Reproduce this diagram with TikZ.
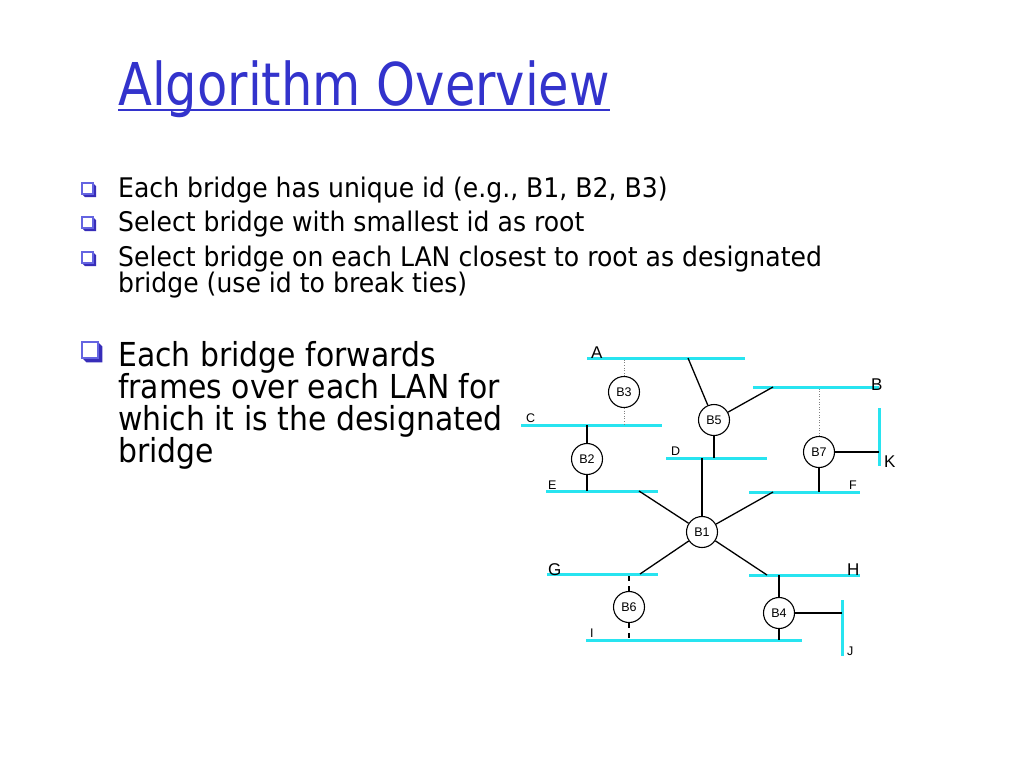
\documentclass[tikz,border=0pt]{standalone}
\usepackage{fontspec}
\setmainfont{DejaVu Sans}[FakeStretch=0.84]
\newfontfamily\bodyfont{DejaVu Sans}[FakeStretch=0.93]
\newfontfamily\bigfont{DejaVu Sans}[FakeStretch=0.905]
\newfontfamily\lanfont{Liberation Sans}
\usetikzlibrary{positioning}
\definecolor{titleblue}{RGB}{51,51,204}
\definecolor{lancyan}{RGB}{40,228,240}
\definecolor{bulfront}{RGB}{100,100,225}
\definecolor{bulback}{RGB}{55,45,185}
\tikzset{
  sqbul/.pic={
    \fill[bulback] (11,0)--(14,3)--(14,14)--(3,14)--(0,11)--(11,11)--cycle;
    \draw[bulfront,line width=1.4pt,fill=white] (0,0) rectangle (11,11);
  }
}
\begin{document}
\begin{tikzpicture}[x=1pt,y=-1pt,
  bridge/.style = {draw, circle, line width=1.1pt, minimum size=31pt, inner sep=0pt, font=\lanfont\fontsize{12.5}{14}\selectfont},
  lan/.style = {lancyan, line width=3pt},
  link/.style = {line width=1.3pt},
  dotlink/.style = {gray, line width=0.6pt, dotted},
  dashlink/.style = {line width=1.3pt, dash pattern=on 5pt off 5pt},
  small/.style = {anchor=base west, inner sep=0pt, font=\lanfont\fontsize{12.5}{14}\selectfont},
  big/.style = {anchor=base west, inner sep=0pt, font=\lanfont\fontsize{17}{19}\selectfont},
  txt/.style = {anchor=base west, inner sep=0pt, font=\bodyfont\fontsize{27}{23}\selectfont},
  bigtxt/.style = {anchor=base west, inner sep=0pt, font=\bigfont\fontsize{33}{32}\selectfont},]
\fill[white] (0,0) rectangle (1024,768);
\useasboundingbox (0,0) rectangle (1024,768);
% title
\node (title) at (118,105)[anchor=base west, inner sep=0pt, text=titleblue, font=\fontsize{59}{70}\selectfont] {Algorithm Overview};
\draw[titleblue, line width=2pt] ([yshift=-5pt]title.base west) -- ([yshift=-5pt]title.base east);
% bullets
\pic at (82,183) {sqbul};
\pic at (82,217) {sqbul};
\pic at (82,252) {sqbul};
\pic[scale=1.45] at (82,342) {sqbul};
\node (t1) at (118,197)[txt] {Each bridge has unique id (e.g., B1, B2, B3)};
\node (t2) at (118,231)[txt] {Select bridge with smallest id as root};
\node (t3) at (118,266)[txt] {Select bridge on each LAN closest to root as designated};
\node (t3b) at (118,292)[txt] {bridge (use id to break ties)};
\node (t4) at (118,366)[bigtxt] {Each bridge forwards};
\node (t4b) at (118,398)[bigtxt] {frames over each LAN for};
\node (t4c) at (118,430)[bigtxt] {which it is the designated};
\node (t4d) at (118,462)[bigtxt] {bridge};
% LANs
\coordinate (Al) at (587,358); \coordinate (Ar) at (745,358);
\coordinate (Bl) at (753,387); \coordinate (Br) at (879,387);
\coordinate (Cl) at (521,425); \coordinate (Cr) at (662,425);
\coordinate (Dl) at (666,458); \coordinate (Dr) at (767,458);
\coordinate (El) at (546,491); \coordinate (Er) at (658,491);
\coordinate (Fl) at (749,492); \coordinate (Fr) at (860,492);
\coordinate (Kt) at (879,408); \coordinate (Kb) at (879,466);
\coordinate (Gl) at (547,574); \coordinate (Gr) at (658,574);
\coordinate (Hl) at (749,575); \coordinate (Hr) at (860,575);
\coordinate (Il) at (586,640); \coordinate (Ir) at (802,640);
\coordinate (Jt) at (842,600); \coordinate (Jb) at (842,656);
\draw[lan] (Al)--(Ar);
\draw[lan] (Bl)--(Br);
\draw[lan] (Cl)--(Cr);
\draw[lan] (Dl)--(Dr);
\draw[lan] (El)--(Er);
\draw[lan] (Fl)--(Fr);
\draw[lan] (Kt)--(Kb);
\draw[lan] (Gl)--(Gr);
\draw[lan] (Hl)--(Hr);
\draw[lan] (Il)--(Ir);
\draw[lan] (Jt)--(Jb);
\node (labA) at (591,358)[big] {A};
\node (labB) at (871,390)[big] {B};
\node (labC) at (526,422)[small] {C};
\node (labD) at (671,455)[small] {D};
\node (labE) at (548,489)[small] {E};
\node (labF) at (849,489)[small] {F};
\node (labK) at (884,467)[big] {K};
\node (labG) at (548,575)[big] {G};
\node (labH) at (847,575)[big] {H};
\node (labI) at (590,637)[small] {I};
\node (labJ) at (847,655)[small] {J};
% bridges
\node (B3) at (624,392)[bridge] {B3};
\node (B5) at (714,420)[bridge] {B5};
\node (B2) at (587,459)[bridge] {B2};
\node (B7) at (819,452)[bridge] {B7};
\node (B1) at (702,532)[bridge] {B1};
\node (B6) at (629,607)[bridge] {B6};
\node (B4) at (779,613)[bridge] {B4};
% ports
\coordinate (B3a) at (624,358); \coordinate (B3c) at (624,425);
\coordinate (B5a) at (688,358); \coordinate (B5b) at (773,387); \coordinate (B5d) at (714,458);
\coordinate (B2c) at (587,425); \coordinate (B2e) at (587,491);
\coordinate (B7b) at (819,387); \coordinate (B7k) at (879,452); \coordinate (B7f) at (819,492);
\coordinate (B1d) at (702,458); \coordinate (B1e) at (639,491); \coordinate (B1f) at (773,492);
\coordinate (B1g) at (640,574); \coordinate (B1h) at (767,575);
\coordinate (B6g) at (629,574); \coordinate (B6i) at (629,640);
\coordinate (B4h) at (779,575); \coordinate (B4i) at (779,640); \coordinate (B4j) at (842,613);
\draw[dotlink] (B3)--(B3a);
\draw[dotlink] (B3)--(B3c);
\draw[link] (B5)--(B5a);
\draw[link] (B5)--(B5b);
\draw[link] (B5)--(B5d);
\draw[link] (B2)--(B2c);
\draw[link] (B2)--(B2e);
\draw[dotlink] (B7)--(B7b);
\draw[link] (B7)--(B7k);
\draw[link] (B7)--(B7f);
\draw[link] (B1)--(B1d);
\draw[link] (B1)--(B1e);
\draw[link] (B1)--(B1f);
\draw[link] (B1)--(B1g);
\draw[link] (B1)--(B1h);
\draw[dashlink] (B6)--(B6g);
\draw[dashlink] (B6)--(B6i);
\draw[link] (B4)--(B4h);
\draw[link] (B4)--(B4i);
\draw[link] (B4)--(B4j);
\end{tikzpicture}
\end{document}
